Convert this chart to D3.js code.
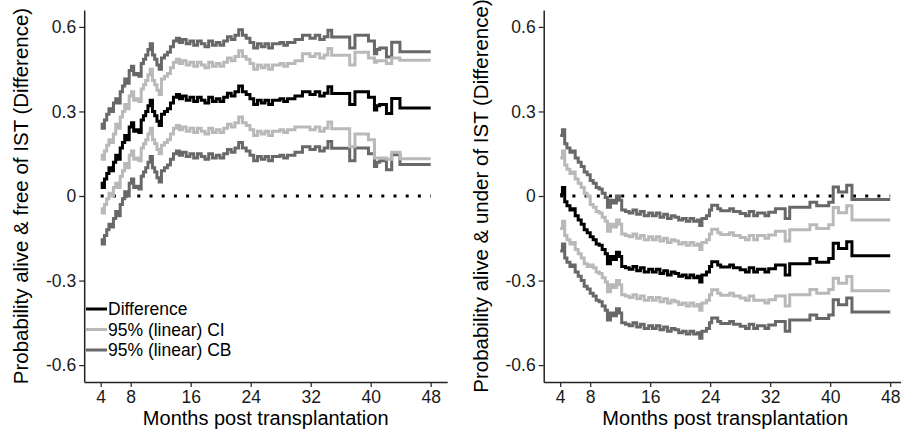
<!DOCTYPE html>
<html>
<head>
<meta charset="utf-8">
<script src="https://cdn.jsdelivr.net/npm/d3@7"></script>
<style>
  body { margin: 0; background: #fff; }
  svg { display: block; font-family: 'Liberation Sans', Arial, sans-serif; }
</style>
</head>
<body>
<svg id="chart"></svg>
<script>
const width = 901
const height = 435

// left panel: alive & free of IST
const leftMonths = [4.0, 4.2, 4.5, 4.8, 5.1, 5.4, 5.7, 6.0, 6.3, 6.6, 6.9, 7.2, 7.5, 7.8, 8.1, 8.4, 8.8, 9.1, 9.4, 9.7,
  10.0, 10.3, 10.6, 10.9, 11.2, 11.5, 11.8, 12.1, 12.5, 12.9, 13.3, 13.7, 14.1, 14.5, 14.9, 15.4, 15.9, 16.4, 16.9, 17.4,
  17.9, 18.4, 18.9, 19.4, 19.9, 20.4, 20.9, 21.4, 21.9, 22.4, 22.9, 23.4, 23.9, 24.4, 24.9, 25.4, 25.9, 26.4, 26.9, 27.9,
  28.4, 28.9, 29.9, 30.9, 31.9, 32.6, 33.2, 33.8, 34.3, 34.8, 37.2, 37.9, 39.7, 40.5, 40.8, 41.2, 42.1, 42.8, 43.9, 48]
const leftDiff = [0.045, 0.03, 0.06, 0.08, 0.10, 0.09, 0.12, 0.145, 0.13, 0.17, 0.19, 0.215, 0.20, 0.245, 0.26, 0.23, 0.235, 0.225, 0.27, 0.285,
  0.30, 0.32, 0.34, 0.30, 0.285, 0.265, 0.25, 0.29, 0.30, 0.31, 0.33, 0.35, 0.36, 0.345, 0.355, 0.34, 0.35, 0.335, 0.35, 0.34,
  0.33, 0.35, 0.335, 0.345, 0.335, 0.35, 0.365, 0.355, 0.37, 0.39, 0.37, 0.36, 0.345, 0.325, 0.34, 0.33, 0.34, 0.325, 0.34, 0.345,
  0.335, 0.345, 0.355, 0.37, 0.36, 0.37, 0.355, 0.365, 0.388, 0.364, 0.325, 0.37, 0.35, 0.305, 0.32, 0.325, 0.293, 0.346, 0.312, 0.312]
const leftCIUpper = [0.145, 0.13, 0.16, 0.18, 0.20, 0.19, 0.22, 0.255, 0.24, 0.28, 0.30, 0.325, 0.31, 0.355, 0.37, 0.34, 0.345, 0.335, 0.38, 0.395,
  0.41, 0.43, 0.45, 0.41, 0.395, 0.375, 0.36, 0.415, 0.425, 0.435, 0.455, 0.475, 0.485, 0.47, 0.48, 0.465, 0.475, 0.46, 0.475, 0.465,
  0.455, 0.475, 0.46, 0.47, 0.46, 0.475, 0.49, 0.48, 0.495, 0.515, 0.495, 0.485, 0.47, 0.45, 0.465, 0.455, 0.465, 0.45, 0.465, 0.47,
  0.46, 0.47, 0.48, 0.505, 0.495, 0.505, 0.49, 0.50, 0.523, 0.499, 0.465, 0.51, 0.49, 0.475, 0.48, 0.48, 0.47, 0.49, 0.482, 0.482]
const leftCILower = [-0.045, -0.06, -0.03, -0.01, 0.01, 0.00, 0.03, 0.045, 0.03, 0.07, 0.09, 0.115, 0.10, 0.145, 0.16, 0.13, 0.135, 0.125, 0.17, 0.185,
  0.20, 0.22, 0.24, 0.20, 0.185, 0.165, 0.15, 0.18, 0.19, 0.20, 0.22, 0.24, 0.25, 0.235, 0.245, 0.23, 0.24, 0.225, 0.24, 0.23,
  0.22, 0.24, 0.225, 0.235, 0.225, 0.24, 0.255, 0.245, 0.26, 0.28, 0.26, 0.25, 0.235, 0.215, 0.23, 0.22, 0.23, 0.215, 0.23, 0.235,
  0.225, 0.235, 0.245, 0.245, 0.235, 0.245, 0.23, 0.24, 0.263, 0.239, 0.175, 0.22, 0.20, 0.135, 0.135, 0.135, 0.13, 0.155, 0.132, 0.132]
const leftCBUpper = [0.255, 0.24, 0.27, 0.29, 0.31, 0.30, 0.33, 0.345, 0.33, 0.37, 0.39, 0.415, 0.40, 0.445, 0.46, 0.43, 0.435, 0.425, 0.47, 0.485,
  0.50, 0.52, 0.54, 0.50, 0.485, 0.465, 0.45, 0.49, 0.50, 0.51, 0.53, 0.55, 0.56, 0.545, 0.555, 0.54, 0.55, 0.535, 0.55, 0.54,
  0.53, 0.55, 0.535, 0.545, 0.535, 0.55, 0.565, 0.555, 0.57, 0.59, 0.57, 0.56, 0.545, 0.525, 0.54, 0.53, 0.54, 0.525, 0.54, 0.545,
  0.535, 0.545, 0.555, 0.57, 0.56, 0.57, 0.555, 0.565, 0.588, 0.564, 0.525, 0.57, 0.55, 0.505, 0.52, 0.525, 0.493, 0.546, 0.512, 0.512]
const leftCBLower = [-0.155, -0.17, -0.14, -0.12, -0.10, -0.11, -0.08, -0.055, -0.07, -0.03, -0.01, 0.015, 0.00, 0.045, 0.06, 0.03, 0.035, 0.025, 0.07, 0.085,
  0.10, 0.12, 0.14, 0.10, 0.085, 0.065, 0.05, 0.09, 0.10, 0.11, 0.13, 0.15, 0.16, 0.145, 0.155, 0.14, 0.15, 0.135, 0.15, 0.14,
  0.13, 0.15, 0.135, 0.145, 0.135, 0.15, 0.165, 0.155, 0.17, 0.19, 0.17, 0.16, 0.145, 0.125, 0.14, 0.13, 0.14, 0.125, 0.14, 0.145,
  0.135, 0.145, 0.155, 0.175, 0.165, 0.175, 0.16, 0.17, 0.193, 0.169, 0.125, 0.17, 0.15, 0.105, 0.12, 0.125, 0.093, 0.146, 0.112, 0.112]

// right panel: alive & under IST
const rightMonths = [4.0, 4.3, 4.6, 4.9, 5.3, 5.7, 6.0, 6.4, 6.8, 7.2, 7.6, 8.0, 8.4, 8.8, 9.2, 9.6, 10.0, 10.3, 10.7, 11.1,
  11.5, 11.9, 12.2, 12.7, 13.2, 13.7, 14.2, 14.7, 15.2, 15.8, 16.3, 16.8, 17.3, 17.8, 18.3, 18.8, 19.3, 19.8, 20.3, 20.8,
  21.3, 21.8, 22.3, 22.6, 22.9, 23.5, 23.9, 24.2, 25.0, 25.4, 26.6, 27.1, 28.0, 28.7, 29.2, 29.8, 30.3, 31.3, 31.8, 32.7,
  34.0, 34.6, 37.3, 38.2, 39.8, 40.4, 41.1, 42.2, 42.9, 48]
const rightDiff = [0.005, 0.03, -0.02, -0.035, -0.05, -0.045, -0.07, -0.085, -0.10, -0.12, -0.13, -0.145, -0.155, -0.17, -0.175, -0.19, -0.205, -0.24, -0.215, -0.225,
  -0.20, -0.215, -0.25, -0.255, -0.26, -0.25, -0.265, -0.255, -0.27, -0.26, -0.27, -0.26, -0.275, -0.265, -0.28, -0.27, -0.275, -0.285, -0.28, -0.29,
  -0.28, -0.29, -0.285, -0.305, -0.28, -0.27, -0.25, -0.233, -0.245, -0.252, -0.245, -0.255, -0.262, -0.27, -0.255, -0.27, -0.26, -0.27, -0.258, -0.245,
  -0.28, -0.24, -0.222, -0.235, -0.222, -0.168, -0.186, -0.162, -0.212, -0.212]
const rightCIUpper = [0.135, 0.16, 0.11, 0.095, 0.08, 0.085, 0.06, 0.045, 0.03, 0.01, 0.0, -0.03, -0.04, -0.055, -0.06, -0.075, -0.09, -0.125, -0.10, -0.11,
  -0.085, -0.10, -0.135, -0.14, -0.145, -0.135, -0.15, -0.14, -0.155, -0.145, -0.155, -0.145, -0.16, -0.15, -0.165, -0.155, -0.16, -0.17, -0.165, -0.175,
  -0.165, -0.175, -0.17, -0.19, -0.165, -0.155, -0.135, -0.118, -0.13, -0.137, -0.13, -0.14, -0.147, -0.155, -0.14, -0.155, -0.14, -0.15, -0.138, -0.125,
  -0.16, -0.12, -0.102, -0.115, -0.102, -0.041, -0.059, -0.035, -0.085, -0.085]
const rightCILower = [-0.115, -0.09, -0.14, -0.155, -0.17, -0.165, -0.19, -0.205, -0.22, -0.24, -0.25, -0.245, -0.255, -0.27, -0.275, -0.29, -0.305, -0.34, -0.315, -0.325,
  -0.30, -0.315, -0.35, -0.355, -0.36, -0.35, -0.365, -0.355, -0.37, -0.36, -0.37, -0.36, -0.375, -0.365, -0.38, -0.37, -0.375, -0.385, -0.38, -0.39,
  -0.38, -0.39, -0.385, -0.405, -0.38, -0.37, -0.35, -0.333, -0.345, -0.352, -0.345, -0.355, -0.362, -0.37, -0.355, -0.37, -0.37, -0.38, -0.368, -0.355,
  -0.39, -0.35, -0.332, -0.345, -0.332, -0.292, -0.31, -0.286, -0.336, -0.336]
const rightCBUpper = [0.215, 0.235, 0.185, 0.17, 0.155, 0.16, 0.135, 0.12, 0.105, 0.085, 0.075, 0.055, 0.045, 0.03, 0.025, 0.01, -0.005, -0.04, -0.015, -0.025,
  0.0, -0.015, -0.05, -0.055, -0.06, -0.05, -0.065, -0.055, -0.07, -0.06, -0.07, -0.06, -0.075, -0.065, -0.08, -0.07, -0.075, -0.085, -0.08, -0.09,
  -0.08, -0.09, -0.085, -0.105, -0.08, -0.07, -0.05, -0.033, -0.045, -0.052, -0.045, -0.055, -0.062, -0.07, -0.055, -0.07, -0.06, -0.07, -0.058, -0.045,
  -0.08, -0.04, -0.022, -0.035, -0.022, 0.032, 0.014, 0.038, -0.012, -0.012]
const rightCBLower = [-0.195, -0.17, -0.22, -0.235, -0.25, -0.245, -0.27, -0.285, -0.30, -0.32, -0.33, -0.345, -0.355, -0.37, -0.375, -0.39, -0.405, -0.44, -0.415, -0.425,
  -0.40, -0.415, -0.45, -0.455, -0.46, -0.45, -0.465, -0.455, -0.47, -0.46, -0.47, -0.46, -0.475, -0.465, -0.48, -0.47, -0.475, -0.485, -0.48, -0.49,
  -0.48, -0.49, -0.485, -0.505, -0.48, -0.47, -0.45, -0.433, -0.445, -0.452, -0.445, -0.455, -0.462, -0.47, -0.455, -0.47, -0.46, -0.47, -0.458, -0.445,
  -0.48, -0.44, -0.422, -0.435, -0.422, -0.368, -0.386, -0.362, -0.412, -0.412]

const xTicks = [4, 8, 16, 24, 32, 40, 48]
const yTicks = [-0.6, -0.3, 0, 0.3, 0.6]
const legendLabels = ['Difference', '95% (linear) CI', '95% (linear) CB']
const xTitle = 'Months post transplantation'

const colDiff = '#000000'
const colCI = '#b9b9b9'
const colCB = '#686868'

const svg = d3.select('#chart').attr('width', width).attr('height', height)

// both panels share the same axis scales, only shifted horizontally
const x = d3.scaleLinear().domain([1.8, 50.2]).range([84.2, 447.2])
const y = d3.scaleLinear().domain([-0.66, 0.66]).range([382, 10])

const panels = [
  {
    offset: 0,
    title: 'Probability alive & free of IST (Difference)',
    months: leftMonths,
    series: [
      { values: leftCBUpper, color: colCB },
      { values: leftCBLower, color: colCB },
      { values: leftCIUpper, color: colCI },
      { values: leftCILower, color: colCI },
      { values: leftDiff, color: colDiff },
    ],
    legend: true,
  },
  {
    offset: 459.5,
    title: 'Probability alive & under of IST (Difference)',
    months: rightMonths,
    series: [
      { values: rightCBUpper, color: colCB },
      { values: rightCBLower, color: colCB },
      { values: rightCIUpper, color: colCI },
      { values: rightCILower, color: colCI },
      { values: rightDiff, color: colDiff },
    ],
    legend: false,
  },
]

const fmt = (d) => (d === 0 ? '0' : d3.format('.1f')(d).replace('−', '-'))

panels.forEach(function (p) {
  const g = svg.append('g').attr('transform', `translate(${p.offset},0)`)

  // reference line at zero
  g.append('line')
    .attr('x1', x(4))
    .attr('x2', x(48))
    .attr('y1', y(0))
    .attr('y2', y(0))
    .attr('stroke', '#000')
    .attr('stroke-width', 3)
    .attr('stroke-dasharray', '3 9.2')

  const line = d3
    .line()
    .curve(d3.curveStepAfter)
    .x((d) => x(d[0]))
    .y((d) => y(d[1]))

  g.append('g')
    .selectAll('path')
    .data(p.series)
    .join('path')
    .attr('d', (s) => line(p.months.map((m, i) => [m, s.values[i]])))
    .attr('fill', 'none')
    .attr('stroke', (s) => s.color)
    .attr('stroke-width', 3)

  // axes
  const yAxis = g
    .append('g')
    .attr('transform', `translate(${x.range()[0]},0)`)
    .call(d3.axisLeft(y).tickValues(yTicks).tickFormat(fmt).tickSize(5).tickSizeOuter(0).tickPadding(3))
  const xAxis = g
    .append('g')
    .attr('transform', `translate(0,${y.range()[0]})`)
    .call(d3.axisBottom(x).tickValues(xTicks).tickSize(5).tickSizeOuter(0).tickPadding(4))

  ;[xAxis, yAxis].forEach(function (a) {
    a.select('.domain').attr('stroke', '#222').attr('stroke-width', 1.5)
    a.selectAll('.tick line').attr('stroke', '#222').attr('stroke-width', 1.2)
    a.selectAll('.tick text')
      .attr('fill', '#1a1a1a')
      .style('font-size', '17.5px')
      .style('font-family', "'Liberation Sans', Arial, sans-serif")
  })

  // axis titles
  g.append('text')
    .attr('x', (x.range()[0] + x.range()[1]) / 2)
    .attr('y', 425)
    .attr('text-anchor', 'middle')
    .style('font-size', '20px')
    .attr('fill', '#000')
    .text(xTitle)

  g.append('text')
    .attr('transform', `translate(28,${(y.range()[0] + y.range()[1]) / 2}) rotate(-90)`)
    .attr('text-anchor', 'middle')
    .style('font-size', '20.5px')
    .attr('fill', '#000')
    .text(p.title)

  if (p.legend) {
    const items = [
      { label: legendLabels[0], color: colDiff },
      { label: legendLabels[1], color: colCI },
      { label: legendLabels[2], color: colCB },
    ]
    const lg = g
      .append('g')
      .selectAll('g')
      .data(items)
      .join('g')
      .attr('transform', (d, i) => `translate(86,${309 + i * 20.5})`)
    lg.append('line')
      .attr('x1', 0)
      .attr('x2', 21)
      .attr('stroke', (d) => d.color)
      .attr('stroke-width', 3)
    lg.append('text')
      .attr('x', 22)
      .attr('dy', '0.35em')
      .style('font-size', '17.5px')
      .attr('fill', '#000')
      .text((d) => d.label)
  }
})
</script>
</body>
</html>
